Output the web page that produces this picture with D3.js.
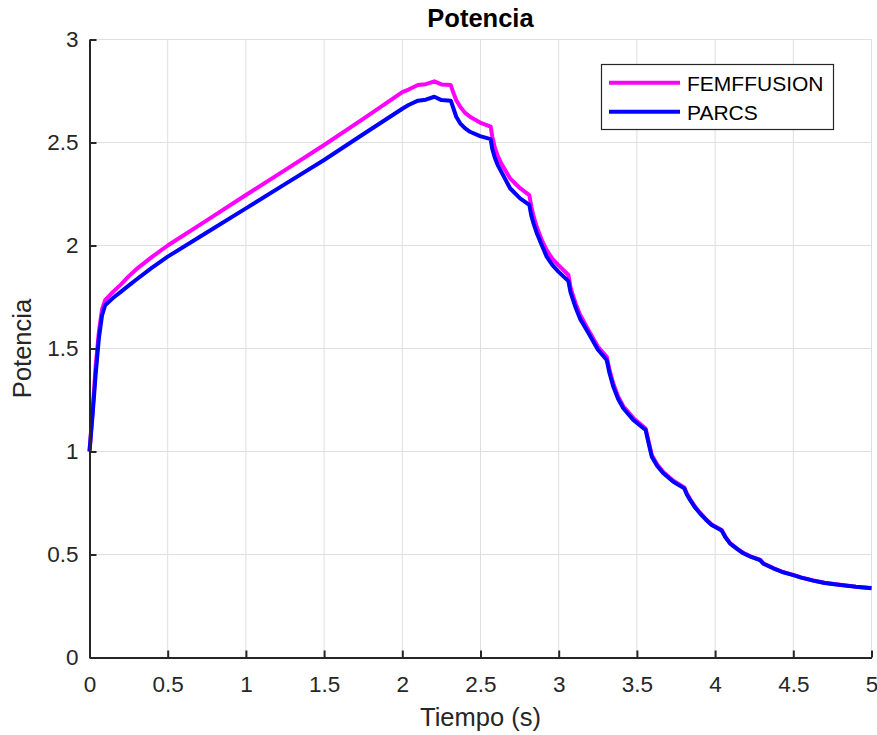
<!DOCTYPE html>
<html>
<head>
<meta charset="utf-8">
<script src="https://cdn.jsdelivr.net/npm/d3@7"></script>
<style>
  body { margin: 0; background: #fff; }
  svg { display: block; font-family: "Liberation Sans", Arial, sans-serif; }
</style>
</head>
<body>
<svg id="chart"></svg>
<script>
const width = 877;
const height = 735;
const margin = { top: 39.5, right: 5.5, bottom: 77.5, left: 89.5 };

// time samples (s)
const tiempo = [
  0, 0.02, 0.04, 0.06, 0.08, 0.1, 0.15, 0.2, 0.25, 0.3, 0.4, 0.5, 0.75, 1.0, 1.25, 1.5, 1.75, 2.0,
  2.04, 2.1, 2.15, 2.205, 2.25, 2.31, 2.325, 2.345, 2.37, 2.4, 2.433, 2.497, 2.565,
  2.575, 2.59, 2.61, 2.635, 2.689, 2.753, 2.812, 2.825, 2.84, 2.86, 2.89, 2.923, 2.96, 2.998, 3.062,
  3.075, 3.09, 3.11, 3.136, 3.19, 3.25, 3.307, 3.325, 3.349, 3.38, 3.413, 3.477, 3.556,
  3.575, 3.595, 3.63, 3.669, 3.733, 3.803, 3.82, 3.84, 3.87, 3.903, 3.94, 3.978, 4.042,
  4.065, 4.095, 4.14, 4.18, 4.23, 4.287, 4.31, 4.372, 4.43, 4.5, 4.55, 4.628, 4.7, 4.8, 4.9, 5.0
];

const femffusion = [
  1.0, 1.2, 1.42, 1.58, 1.69, 1.735, 1.775, 1.81, 1.85, 1.885, 1.945, 2.0, 2.122, 2.245, 2.366, 2.488, 2.615, 2.745,
  2.757, 2.779, 2.783, 2.797, 2.782, 2.779, 2.745, 2.705, 2.674, 2.645, 2.625, 2.597, 2.577,
  2.53, 2.48, 2.435, 2.395, 2.326, 2.278, 2.245, 2.19, 2.14, 2.09, 2.03, 1.978, 1.935, 1.905, 1.857,
  1.8, 1.76, 1.715, 1.665, 1.59, 1.51, 1.46, 1.395, 1.33, 1.267, 1.22, 1.163, 1.112,
  1.048, 0.983, 0.937, 0.9, 0.858, 0.826, 0.795, 0.769, 0.734, 0.703, 0.673, 0.646, 0.619,
  0.587, 0.556, 0.529, 0.508, 0.49, 0.475, 0.456, 0.434, 0.416, 0.401, 0.389, 0.374, 0.363, 0.353, 0.344, 0.337
];

const parcs = [
  1.0, 1.18, 1.38, 1.55, 1.66, 1.71, 1.745, 1.775, 1.805, 1.835, 1.893, 1.946, 2.063, 2.18, 2.298, 2.415, 2.54, 2.664,
  2.682, 2.703, 2.708, 2.722, 2.706, 2.703, 2.67, 2.625, 2.593, 2.57, 2.552, 2.531, 2.516,
  2.47, 2.43, 2.39, 2.355, 2.278, 2.229, 2.197, 2.145, 2.105, 2.06, 2.005, 1.946, 1.905, 1.873, 1.827,
  1.775, 1.74, 1.695, 1.645, 1.575, 1.495, 1.444, 1.38, 1.315, 1.255, 1.21, 1.153, 1.104,
  1.04, 0.975, 0.93, 0.894, 0.853, 0.821, 0.79, 0.765, 0.73, 0.7, 0.67, 0.643, 0.616,
  0.585, 0.554, 0.527, 0.506, 0.488, 0.473, 0.455, 0.433, 0.415, 0.4, 0.388, 0.373, 0.362, 0.352, 0.343, 0.336
];

const xTicks = [0, 0.5, 1, 1.5, 2, 2.5, 3, 3.5, 4, 4.5, 5];
const yTicks = [0, 0.5, 1, 1.5, 2, 2.5, 3];

const series = [
  { name: "FEMFFUSION", values: femffusion, color: "#ff00ff" },
  { name: "PARCS", values: parcs, color: "#0000ff" }
];

const svg = d3.select("#chart")
  .attr("width", width)
  .attr("height", height);

const x = d3.scaleLinear().domain([0, 5]).range([margin.left, width - margin.right]);
const y = d3.scaleLinear().domain([0, 3]).range([height - margin.bottom, margin.top]);

// grid
const grid = svg.append("g").attr("stroke", "#dfdfdf").attr("stroke-width", 1);
grid.selectAll(".vx").data(xTicks).enter().append("line")
  .attr("x1", d => x(d)).attr("x2", d => x(d))
  .attr("y1", y(0)).attr("y2", y(3));
grid.selectAll(".hy").data(yTicks).enter().append("line")
  .attr("x1", x(0)).attr("x2", x(5))
  .attr("y1", d => y(d)).attr("y2", d => y(d));

// lines
const line = d3.line()
  .x((d, i) => x(tiempo[i]))
  .y(d => y(d));

svg.append("g").selectAll("path").data(series).enter().append("path")
  .attr("d", d => line(d.values))
  .attr("fill", "none")
  .attr("stroke", d => d.color)
  .attr("stroke-width", 4)
  .attr("stroke-linejoin", "round");

// axes (ticks inward, MATLAB-like)
const axisColor = "#262626";
const xAxis = svg.append("g")
  .attr("transform", `translate(0,${y(0)})`)
  .call(d3.axisBottom(x).tickValues(xTicks).tickSizeInner(-7).tickSizeOuter(0).tickPadding(19)
    .tickFormat(d3.format("")));
const yAxis = svg.append("g")
  .attr("transform", `translate(${x(0)},0)`)
  .call(d3.axisLeft(y).tickValues(yTicks).tickSizeInner(-7).tickSizeOuter(0).tickPadding(11)
    .tickFormat(d3.format("")));

[xAxis, yAxis].forEach(a => {
  a.select(".domain").attr("stroke", axisColor).attr("stroke-width", 2);
  a.selectAll(".tick line").attr("stroke", axisColor).attr("stroke-width", 2);
  a.selectAll(".tick text")
    .attr("fill", axisColor)
    .style("font-size", "22.5px")
    .style("font-family", "'Liberation Sans', Arial, sans-serif");
});

// labels
svg.append("text")
  .attr("x", (x(0) + x(5)) / 2).attr("y", 27)
  .attr("text-anchor", "middle")
  .style("font-size", "25.5px").style("font-weight", "bold")
  .attr("fill", "#000")
  .text("Potencia");

svg.append("text")
  .attr("x", (x(0) + x(5)) / 2).attr("y", 726)
  .attr("text-anchor", "middle")
  .style("font-size", "25.5px")
  .attr("fill", axisColor)
  .text("Tiempo (s)");

svg.append("text")
  .attr("transform", `translate(31,${(y(0) + y(3)) / 2}) rotate(-90)`)
  .attr("text-anchor", "middle")
  .style("font-size", "25.5px")
  .attr("fill", axisColor)
  .text("Potencia");

// legend
const legend = svg.append("g");
legend.append("rect")
  .attr("x", 601.5).attr("y", 64.5).attr("width", 232).attr("height", 65)
  .attr("fill", "#fff").attr("stroke", axisColor).attr("stroke-width", 1.2);
const items = legend.selectAll(".item").data(series).enter().append("g")
  .attr("transform", (d, i) => `translate(0,${82.7 + i * 29})`);
items.append("line")
  .attr("x1", 609).attr("x2", 680).attr("y1", 0).attr("y2", 0)
  .attr("stroke", d => d.color).attr("stroke-width", 4);
items.append("text")
  .attr("x", 687).attr("y", 7.8)
  .style("font-size", "21px")
  .attr("fill", "#000")
  .text(d => d.name);
</script>
</body>
</html>
